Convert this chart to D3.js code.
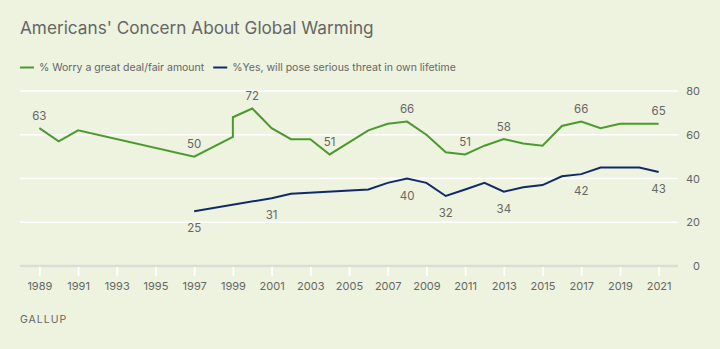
<!DOCTYPE html>
<html>
<head>
<meta charset="utf-8">
<script src="https://cdn.jsdelivr.net/npm/d3@7"></script>
<style>
  html, body { margin: 0; padding: 0; background: #edf3de; }
  svg { display: block; font-family: Inter, "Noto Sans", sans-serif; }
</style>
</head>
<body>
<svg id="chart"></svg>
<script>
const worryYears = [1989, 1990, 1991, 1997, 1999, 1999, 2000, 2001, 2002, 2003, 2004, 2006, 2007,
  2008, 2009, 2010, 2011, 2012, 2013, 2014, 2015, 2016, 2017, 2018, 2019, 2020, 2021];
const worryValues = [63, 57, 62, 50, 59, 68, 72, 63, 58, 58, 51, 62, 65,
  66, 60, 52, 51, 55, 58, 56, 55, 64, 66, 63, 65, 65, 65];
const worryLabelled = [1989, 1997, 2000, 2004, 2008, 2011, 2013, 2017, 2021];

const threatYears = [1997, 2001, 2002, 2006, 2007, 2008, 2009, 2010, 2011, 2012, 2013,
  2014, 2015, 2016, 2017, 2018, 2019, 2020, 2021];
const threatValues = [25, 31, 33, 35, 38, 40, 38, 32, 35, 38, 34,
  36, 37, 41, 42, 45, 45, 45, 43];
const threatLabelled = [1997, 2001, 2008, 2010, 2013, 2017, 2021];

const seriesNames = ["% Worry a great deal/fair amount", "%Yes, will pose serious threat in own lifetime"];
const xTicks = d3.range(1989, 2022, 2);
const yTicks = [0, 20, 40, 60, 80];

const W = 720, H = 349;
const green = "#4b9a2d", navy = "#0f2a6c", grey = "#666";

const svg = d3.select("#chart").attr("width", W).attr("height", H);

const x = d3.scaleLinear().domain([1988, 2022]).range([20, 678]);
const y = d3.scaleLinear().domain([0, 80]).range([266, 91]);

// title
svg.append("text")
  .attr("x", 20).attr("y", 34)
  .attr("font-size", 17.2).attr("fill", grey)
  .text("Americans' Concern About Global Warming");

// legend
const legend = svg.append("g");
let lx = 20;
seriesNames.forEach((name, i) => {
  legend.append("line")
    .attr("x1", lx).attr("x2", lx + 14).attr("y1", 67.5).attr("y2", 67.5)
    .attr("stroke", i === 0 ? green : navy).attr("stroke-width", 2);
  const t = legend.append("text")
    .attr("x", lx + 19).attr("y", 71)
    .attr("font-size", 10.5).attr("fill", grey)
    .text(name);
  lx += 19 + t.node().getComputedTextLength() + 9;
});

// gridlines
svg.append("g")
  .selectAll("line")
  .data(yTicks.filter(d => d > 0))
  .join("line")
  .attr("x1", 20).attr("x2", 678)
  .attr("y1", d => y(d)).attr("y2", d => y(d))
  .attr("stroke", "#fff").attr("stroke-width", 1.5);

// y labels on the right
svg.append("g")
  .selectAll("text")
  .data(yTicks)
  .join("text")
  .attr("x", 700).attr("y", d => y(d) + 4)
  .attr("text-anchor", "end")
  .attr("font-size", 11).attr("fill", grey)
  .text(d => d);

// x axis
const xAxis = svg.append("g")
  .attr("transform", `translate(0,${y(0)})`)
  .call(d3.axisBottom(x).tickValues(xTicks).tickFormat(d3.format("d")).tickSize(10).tickPadding(6));
xAxis.select(".domain").remove();
xAxis.insert("line", ":first-child")
  .attr("x1", 20).attr("x2", 678)
  .attr("stroke", "#dcdcd6").attr("stroke-width", 2.5);
xAxis.selectAll(".tick line").attr("stroke", "#fff").attr("stroke-width", 1.8).attr("y1", 1);
xAxis.selectAll(".tick text")
  .attr("fill", grey).attr("font-size", 11)
  .attr("font-family", "Inter, 'Noto Sans', sans-serif");

// lines
const line = d3.line().x(d => x(d[0])).y(d => y(d[1]));
const worry = worryYears.map((yr, i) => [yr, worryValues[i]]);
const threat = threatYears.map((yr, i) => [yr, threatValues[i]]);

svg.append("path")
  .datum(worry)
  .attr("d", line)
  .attr("fill", "none").attr("stroke", green).attr("stroke-width", 2)
  .attr("stroke-linejoin", "miter");

svg.append("path")
  .datum(threat)
  .attr("d", line)
  .attr("fill", "none").attr("stroke", navy).attr("stroke-width", 2)
  .attr("stroke-linejoin", "miter");

// value labels
const lastAt = (pts, yr) => pts.filter(p => p[0] === yr).pop();

svg.append("g")
  .selectAll("text")
  .data(worryLabelled.map(yr => lastAt(worry, yr)))
  .join("text")
  .attr("x", d => x(d[0])).attr("y", d => y(d[1]) - 8.5)
  .attr("text-anchor", "middle")
  .attr("font-size", 11.5).attr("fill", grey)
  .text(d => d[1]);

svg.append("g")
  .selectAll("text")
  .data(threatLabelled.map(yr => lastAt(threat, yr)))
  .join("text")
  .attr("x", d => x(d[0])).attr("y", d => y(d[1]) + 21)
  .attr("text-anchor", "middle")
  .attr("font-size", 11.5).attr("fill", grey)
  .text(d => d[1]);

// source
svg.append("text")
  .attr("x", 20).attr("y", 323)
  .attr("font-size", 10.5).attr("fill", grey)
  .attr("letter-spacing", 1)
  .text("GALLUP");
</script>
</body>
</html>
